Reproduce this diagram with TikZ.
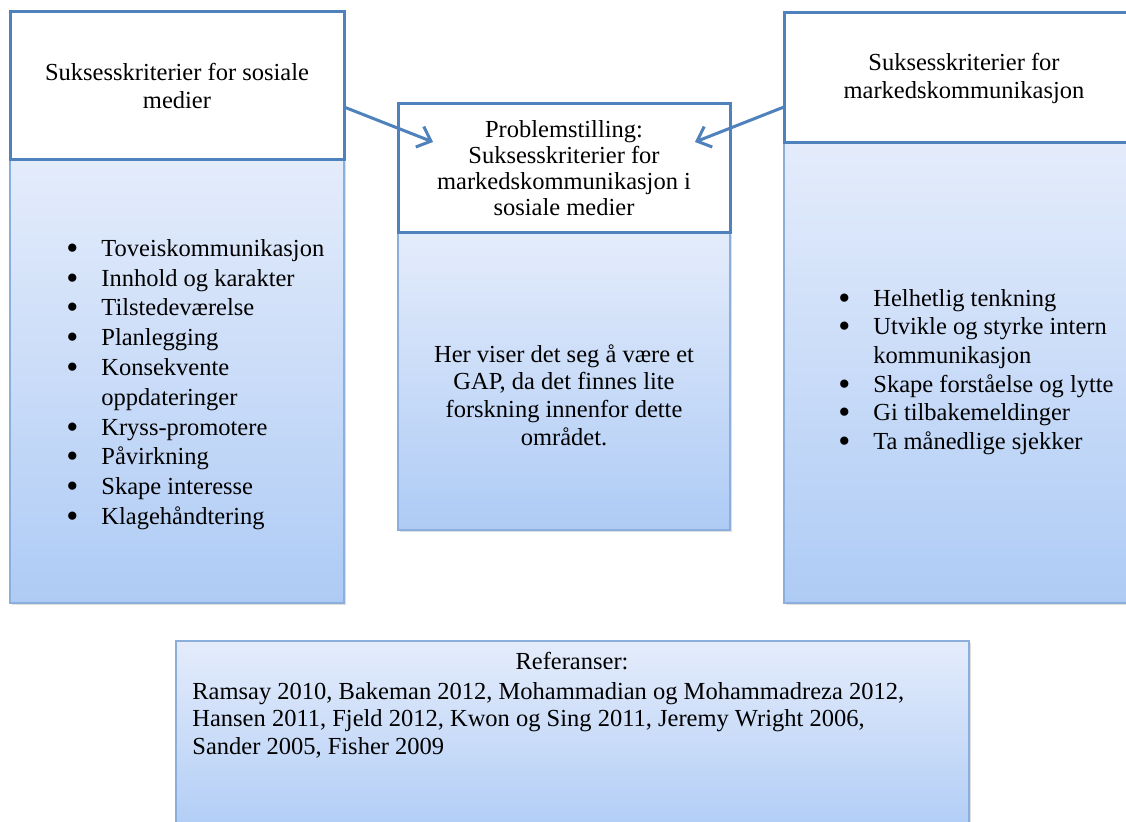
\documentclass[tikz,border=0pt]{standalone}
\usepackage{fontspec}
\setmainfont{Liberation Serif}
\usetikzlibrary{arrows.meta,shadows}
\definecolor{headblue}{RGB}{79,129,189}
\definecolor{bodyline}{RGB}{140,174,218}
\definecolor{bodytop}{RGB}{228,236,251}
\definecolor{bodybot}{RGB}{174,203,245}
\newcommand{\bl}{\makebox[17.5pt][l]{\raisebox{-0.12em}{\scalebox{1.4}{\textbullet}}}}
\newcommand{\nbl}{\hspace*{17.5pt}}
\tikzset{
  head/.style={draw=headblue, line width=1.5pt, fill=white, anchor=north west,
    inner sep=0pt, outer sep=0pt, align=center, font=\fontsize{12.25}{14}\selectfont},
  body/.style={draw=bodyline, line width=0.6pt, top color=bodytop, bottom color=bodybot,
    anchor=north west, inner sep=0pt, outer sep=0pt,
    drop shadow={opacity=0.25, shadow xshift=1pt, shadow yshift=-1.2pt}},
  txt/.style={inner sep=0pt, font=\fontsize{12.25}{14.9}\selectfont},
  link/.style={draw=headblue, line width=1.5pt, -{Straight Barb[length=6pt,width=11pt]}}
}
\begin{document}
\begin{tikzpicture}[x=0.5pt,y=-0.5pt]
  \useasboundingbox (0,0) rectangle (1126,822);
  \clip (0,0) rectangle (1126,822);
  \fill[white] (0,0) rectangle (1126,822);
  % lower boxes
  \node[body, minimum width=167pt, minimum height=221.5pt] (lbody) at (10,160) {};
  \node[body, minimum width=166pt, minimum height=148.5pt] (mbody) at (398,233) {};
  \node[body, minimum width=180pt, minimum height=230pt] (rbody) at (784,143) {};
  \node[body, minimum width=396.5pt, minimum height=100pt] (refs) at (176,641) {};
  % headers
  \node[head, minimum width=167pt, minimum height=74pt] (lhead) at (10,12)
    {Suksesskriterier for sosiale\\medier};
  \node[head, minimum width=166pt, minimum height=64.5pt, font=\fontsize{12.25}{13}\selectfont] (mhead) at (398,104)
    {Problemstilling:\\Suksesskriterier for\\markedskommunikasjon i\\sosiale medier};
  \node[head, minimum width=180pt, minimum height=65pt] (rhead) at (784,13)
    {Suksesskriterier for\\markedskommunikasjon};
  % texts
  \node[txt, anchor=north west, align=left] (llist) at (66,239)
    {\bl Toveiskommunikasjon\\
     \bl Innhold og karakter\\
     \bl Tilstedeværelse\\
     \bl Planlegging\\
     \bl Konsekvente\\
     \nbl oppdateringer\\
     \bl Kryss-promotere\\
     \bl Påvirkning\\
     \bl Skape interesse\\
     \bl Klagehåndtering};
  \node[txt, anchor=north west, align=left, font=\fontsize{12.25}{14.3}\selectfont] (rlist) at (838,289)
    {\bl Helhetlig tenkning\\
     \bl Utvikle og styrke intern\\
     \nbl kommunikasjon\\
     \bl Skape forståelse og lytte\\
     \bl Gi tilbakemeldinger\\
     \bl Ta månedlige sjekker};
  \node[txt, anchor=north, align=center, font=\fontsize{12.25}{13.85}\selectfont] (gap) at (564,344)
    {Her viser det seg å være et\\GAP, da det finnes lite\\forskning innenfor dette\\området.};
  \node[txt, anchor=north] (reft) at (572,652) {Referanser:};
  \node[txt, anchor=north west, align=left, font=\fontsize{12.25}{13.75}\selectfont] (refl) at (192,682)
    {Ramsay 2010, Bakeman 2012, Mohammadian og Mohammadreza 2012,\\
     Hansen 2011, Fjeld 2012, Kwon og Sing 2011, Jeremy Wright 2006,\\
     Sander 2005, Fisher 2009};
  % arrows
  \coordinate (tipL) at (433,142);
  \coordinate (tipR) at (695,142);
  \draw[link] ([yshift=-10.5pt]lhead.east) -- (tipL);
  \draw[link] ([yshift=-14.5pt]rhead.west) -- (tipR);
\end{tikzpicture}
\end{document}
